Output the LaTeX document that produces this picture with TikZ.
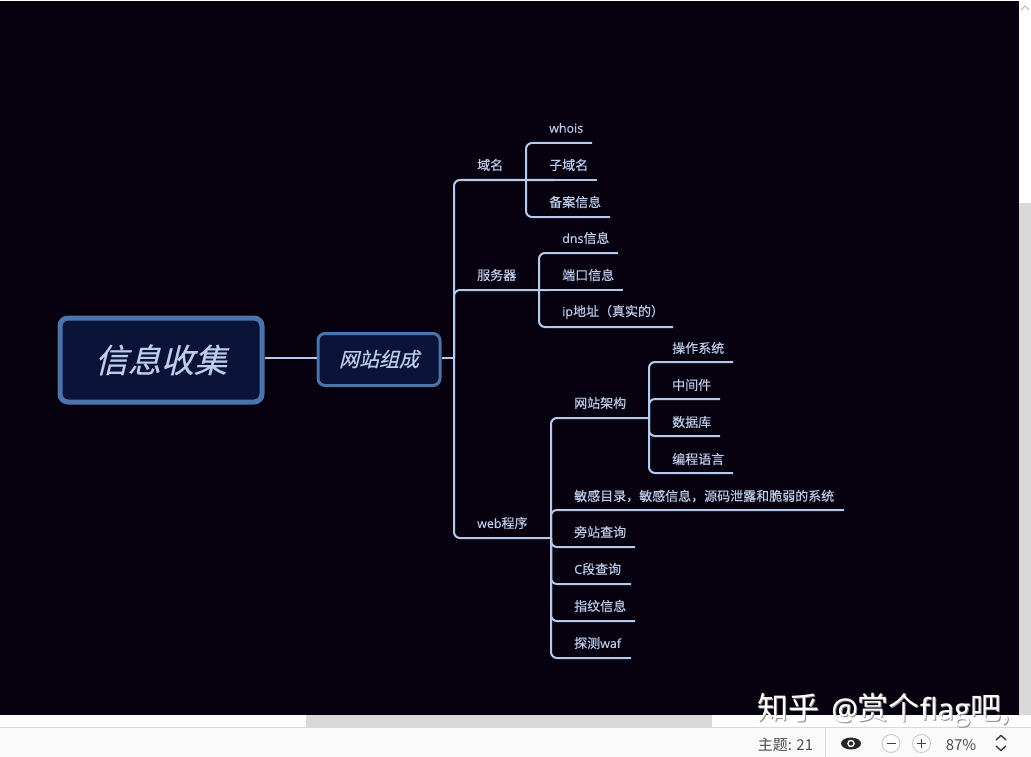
\documentclass[tikz,border=0pt]{standalone}
\usepackage{fontspec}
\setmainfont[FakeBold=0.25]{Noto Sans CJK SC}
\newfontfamily\latinf[Scale=0.96,FakeBold=0.2]{Open Sans}
\newfontfamily\slantf[FakeSlant=0.25,FakeBold=0.4]{Noto Sans CJK SC}
\newfontfamily\plainf{Noto Sans CJK SC}
\definecolor{bgc}{HTML}{07000E}
\definecolor{linec}{HTML}{B4CBEE}
\definecolor{textc}{HTML}{BCCDEA}
\definecolor{rootfill}{HTML}{0B1338}
\definecolor{rootline}{HTML}{4A74AC}
\definecolor{barc}{HTML}{D9D9D9}
\definecolor{statusc}{HTML}{FAFAFA}
\tikzset{
  lnk/.style={draw=linec,line width=2pt,rounded corners=6pt},
  lab/.style={text=textc,font=\fontsize{13}{15}\selectfont,anchor=west,inner sep=0pt},
  rootbox/.style={draw=rootline,fill=rootfill,rounded corners=8pt,line width=5pt,text=textc,inner sep=0pt,minimum width=202pt,minimum height=84pt,font=\slantf\fontsize{33}{36}\selectfont},
  subbox/.style={draw=rootline,fill=rootfill,rounded corners=7pt,line width=3pt,text=textc,inner sep=0pt,minimum width=122pt,minimum height=52pt,font=\slantf\fontsize{20}{22}\selectfont},
  statuslab/.style={text=black!70,font=\plainf\fontsize{15}{17}\selectfont,inner sep=0pt},
  wmark/.style={text=white,font=\plainf\fontsize{31}{34}\selectfont,inner sep=0pt,anchor=west},
  wshadow/.style={wmark,text=black!45}
}
\newcommand{\wmtext}{知乎\hspace{12pt}{\latinf @}赏个{\latinf flag}吧,}
\begin{document}
\begin{tikzpicture}[x=1pt,y=-1pt]
\useasboundingbox (0,0) rectangle (1031,757);
\fill[white] (0,0) rectangle (1031,757);
\fill[bgc] (0,1) rectangle (1019,715);
% scrollbars and status
\fill[barc] (1019,203) rectangle (1031,715);
\fill[barc] (306,715) rectangle (712,727);
\fill[statusc] (0,727) rectangle (1031,757);
\draw[black!15,line width=0.7pt] (0,727.5) -- (1031,727.5);
\draw[black!15,line width=0.7pt] (825.5,727) -- (825.5,757);
\draw[black!30,line width=1pt] (1021,10) -- (1025,6) -- (1029,10);
% nodes
\node[rootbox] (root) at (161,360) {\raisebox{3pt}{信息收集}};
\node[subbox] (sub) at (379,359.5) {\raisebox{2.5pt}{网站组成}};
\coordinate (trunk) at (454,358);
\draw[lnk] (root.east |- trunk) -- (sub.west |- trunk);
\draw[lnk] (sub.east |- trunk) -- (trunk);
% level 2
\coordinate (e1) at (555,180); \coordinate (e2) at (550,290); \coordinate (e3) at (551,538);
\draw[lnk] (trunk) -- (454,180) -- (e1);
\draw[lnk] (trunk) -- (454,290) -- (e2);
\draw[lnk] (trunk) -- (454,538) -- (e3);
\node[lab] (n1) at (477,165) {域名};
\node[lab] (n2) at (477,275) {服务器};
\node[lab] (n3) at (477,523) {{\latinf web}程序};
% domain
\coordinate (a) at (526,180);
\coordinate (a1) at (592,143); \coordinate (a2) at (597,180); \coordinate (a3) at (610,217);
\draw[lnk] (a) -- (526,143) -- (a1);
\draw[lnk] (a) -- (a2);
\draw[lnk] (a) -- (526,217) -- (a3);
\node[lab] (a1t) at (549,128) {{\latinf whois}};
\node[lab] (a2t) at (549,165) {子域名};
\node[lab] (a3t) at (549,202) {备案信息};
% server
\coordinate (b) at (539,290);
\coordinate (b1) at (618,253); \coordinate (b2) at (623,290); \coordinate (b3) at (673,327);
\draw[lnk] (b) -- (539,253) -- (b1);
\draw[lnk] (b) -- (b2);
\draw[lnk] (b) -- (539,327) -- (b3);
\node[lab] (b1t) at (562,238) {{\latinf dns}信息};
\node[lab] (b2t) at (562,275) {端口信息};
\node[lab] (b3t) at (562,312) {{\latinf ip}地址（真实的）};
% web
\coordinate (c) at (551,538);
\coordinate (c1) at (649,418); \coordinate (c2) at (844,510); \coordinate (c3) at (635,547);
\coordinate (c4) at (631,584); \coordinate (c5) at (635,621); \coordinate (c6) at (631,658);
\draw[lnk] (c) -- (551,418) -- (c1);
\draw[lnk] (c) -- (551,510) -- (c2);
\draw[lnk] (c) -- (551,547) -- (c3);
\draw[lnk] (c) -- (551,584) -- (c4);
\draw[lnk] (c) -- (551,621) -- (c5);
\draw[lnk] (c) -- (551,658) -- (c6);
\node[lab] (c1t) at (574,403) {网站架构};
\node[lab] (c2t) at (574,496) {敏感目录，敏感信息，源码泄露和脆弱的系统};
\node[lab] (c3t) at (574,532) {旁站查询};
\node[lab] (c4t) at (574,569) {{\latinf C}段查询};
\node[lab] (c5t) at (574,606) {指纹信息};
\node[lab] (c6t) at (574,643) {探测{\latinf waf}};
% arch
\coordinate (d) at (649,418);
\coordinate (d1) at (733,362); \coordinate (d2) at (720,399); \coordinate (d3) at (720,436); \coordinate (d4) at (733,473);
\draw[lnk] (d) -- (649,362) -- (d1);
\draw[lnk] (d) -- (649,399) -- (d2);
\draw[lnk] (d) -- (649,436) -- (d3);
\draw[lnk] (d) -- (649,473) -- (d4);
\node[lab] (d1t) at (672,348) {操作系统};
\node[lab] (d2t) at (672,385) {中间件};
\node[lab] (d3t) at (672,422) {数据库};
\node[lab] (d4t) at (672,459) {编程语言};
% watermark
\node[wshadow] (wms) at (758,711) {\wmtext};
\node[wmark] (wm) at (757,710) {\wmtext};
% status bar
\node[statuslab] (theme) at (785.5,744.5) {主题: 21};
\node[statuslab] (pct) at (961,744.5) {87\%};
\fill[black!85] (851,743.5) ellipse (10pt and 6pt);
\fill[white] (851,743.5) circle (3.8pt);
\fill[black!85] (851,743.5) circle (2.2pt);
\draw[black!20,fill=white,line width=1pt] (891,743.5) circle (9pt);
\draw[black!20,fill=white,line width=1pt] (921.5,743.5) circle (9pt);
\draw[black!75,line width=1.2pt] (886.5,743.5) -- (895.5,743.5);
\draw[black!75,line width=1.2pt] (917,743.5) -- (926,743.5) (921.5,739) -- (921.5,748);
\draw[black!75,line width=1.4pt] (996,740) -- (1001,735.5) -- (1006,740);
\draw[black!75,line width=1.4pt] (996,746) -- (1001,750.5) -- (1006,746);
\end{tikzpicture}
\end{document}
